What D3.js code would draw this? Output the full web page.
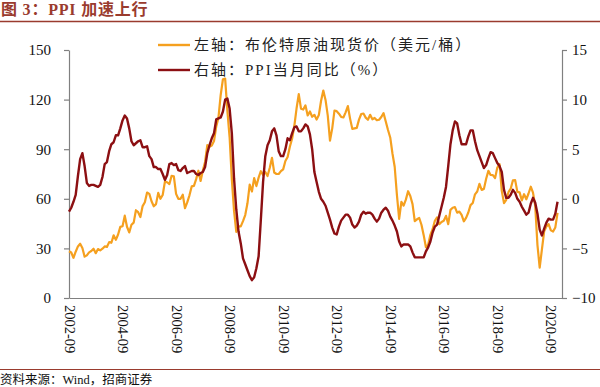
<!DOCTYPE html>
<html><head><meta charset="utf-8">
<script src="https://cdn.jsdelivr.net/npm/d3@7/dist/d3.min.js"></script>
<style>
html,body{margin:0;padding:0;background:#fff;}
svg{display:block;}
text{font-family:"Liberation Serif","Noto Sans CJK SC",serif;}
</style></head>
<body>
<svg id="chart" width="600" height="387"></svg>
<script>
// Monthly data from 2002-09 to 2020-12
const startYear = 2002, startMonth = 9;
const brent = [
 28.3,27.5,24.3,28.0,
 31.2,32.8,30.3,25.0,25.8,27.6,28.4,29.8,27.1,29.6,28.8,29.8,
 31.2,30.9,33.8,33.4,37.9,35.2,38.4,43.0,43.4,49.8,43.1,39.7,
 44.3,45.6,53.1,51.9,49.0,55.6,57.9,63.8,63.0,58.5,55.5,56.8,
 63.6,60.0,62.3,70.4,70.0,68.9,73.9,73.6,63.0,60.0,60.0,62.5,
 54.3,57.8,62.1,67.5,67.8,71.9,77.0,70.8,77.1,82.3,92.5,91.5,
 92.2,94.9,103.7,109.1,122.8,132.3,132.7,113.2,97.2,71.6,52.5,40.0,
 43.4,43.3,46.5,50.2,57.3,68.6,64.4,72.5,67.7,72.8,76.7,74.5,
 76.2,73.8,78.8,84.8,75.9,75.0,75.0,76.7,77.8,82.9,85.3,91.5,
 96.3,104.0,114.6,123.3,114.5,114.0,116.5,110.4,112.8,109.6,110.8,107.9,
 110.7,119.3,125.5,119.8,110.3,95.2,102.6,113.4,113.0,111.5,109.5,109.2,
 112.3,116.1,108.5,102.3,102.6,102.9,107.9,111.3,111.6,109.1,107.8,110.8,
 108.1,108.9,107.5,107.8,109.5,111.8,106.8,101.6,97.1,87.4,79.4,62.3,
 47.8,58.1,55.9,59.5,64.6,61.7,56.8,46.5,47.6,48.4,44.3,38.0,
 30.7,32.2,38.2,41.6,46.7,48.8,44.7,46.0,46.7,49.7,44.7,53.3,
 54.6,55.0,51.6,52.3,50.3,46.4,48.5,51.7,56.2,57.5,62.7,64.4,
 69.1,65.4,66.0,72.1,76.9,74.4,74.3,72.5,78.9,81.0,64.8,57.4,
 59.4,64.0,66.1,71.2,71.3,64.2,63.9,59.0,62.8,59.7,63.2,67.3,
 63.7,55.7,32.0,18.4,29.4,40.3,43.2,44.7,40.9,40.2,42.7,51.5
];
const ppi = [
 -1.3,-0.9,-0.3,0.4,
 2.3,4.0,4.6,3.3,1.6,1.3,1.4,1.4,1.3,1.2,1.4,2.2,
 3.5,3.7,4.8,5.5,5.7,6.4,6.4,7.1,7.9,8.4,8.1,7.1,
 5.8,5.4,5.6,5.8,5.9,5.2,5.2,5.3,4.3,4.0,3.2,3.2,
 3.0,3.0,2.5,1.9,2.4,3.5,3.6,3.4,3.5,2.9,2.8,3.1,
 3.3,2.6,2.7,2.8,2.8,2.5,2.4,2.6,2.7,3.2,4.6,5.4,
 6.1,6.6,8.0,8.1,8.2,8.8,10.0,10.1,9.1,6.6,2.0,-1.1,
 -3.3,-4.5,-6.0,-6.6,-7.2,-7.8,-8.2,-7.9,-7.0,-5.8,-2.1,1.7,
 4.3,5.4,5.9,6.8,7.1,6.4,4.8,4.3,4.3,5.0,6.1,5.9,
 6.6,7.2,7.3,6.8,6.8,7.1,7.5,7.3,6.5,5.0,2.7,1.7,
 0.7,0.0,-0.3,-0.7,-1.4,-2.1,-2.9,-3.5,-3.6,-2.8,-2.2,-1.9,
 -1.6,-1.6,-1.9,-2.6,-2.9,-2.7,-2.3,-1.6,-1.3,-1.5,-1.4,-1.4,
 -1.6,-2.0,-2.3,-2.0,-1.4,-1.1,-0.9,-1.2,-1.8,-2.2,-2.7,-3.3,
 -4.3,-4.8,-4.6,-4.6,-4.6,-4.8,-5.4,-5.9,-5.9,-5.9,-5.9,-5.9,
 -5.3,-4.9,-4.3,-3.4,-2.8,-2.6,-1.7,-0.8,0.1,1.2,3.3,5.5,
 6.9,7.8,7.6,6.4,5.5,5.5,5.5,6.3,6.9,6.9,5.8,4.9,
 4.3,3.7,3.1,3.4,4.1,4.7,4.6,4.1,3.6,3.3,2.7,0.9,
 0.1,0.1,0.4,0.9,0.6,0.0,-0.3,-0.8,-1.2,-1.6,-1.4,-0.5,
 0.1,-0.4,-1.5,-3.1,-3.7,-3.0,-2.4,-2.0,-2.1,-2.1,-1.5,-0.3
];
const xTickLabels = ["2002-09","2004-09","2006-09","2008-09","2010-09","2012-09","2014-09","2016-09","2018-09","2020-09"];
const leftTicks = [0,30,60,90,120,150];
const rightTicks = [-10,-5,0,5,10,15];
const seriesNames = ["左轴：布伦特原油现货价（美元/桶）","右轴：PPI当月同比（%）"];
const titleText = "图 3：PPI 加速上行";
const sourceText = "资料来源：Wind，招商证券";

const colOil = "#f5a01f", colPPI = "#8c0f12", colTitle = "#9a3b2e", axisCol = "#808080";

const svg = d3.select("#chart");
const L = 69, R = 562, T = 50, B = 298;

// month index for each label
const labelIdx = xTickLabels.map(s => {
  const [y, m] = s.split("-").map(Number);
  return (y - startYear) * 12 + (m - startMonth);
});
const x = d3.scaleLinear().domain([0, 221]).range([L, R]);
const yL = d3.scaleLinear().domain([0, 150]).range([B, T]);
const yR = d3.scaleLinear().domain([-10, 15]).range([B, T]);

// title
svg.append("text").attr("x", 1).attr("y", 15).attr("fill", colTitle)
  .attr("font-size", 16).attr("letter-spacing", 0.8).attr("font-weight", "bold").text(titleText);
svg.append("line").attr("x1", 0).attr("x2", 600).attr("y1", 21.5).attr("y2", 21.5)
  .attr("stroke", colTitle).attr("stroke-width", 1.5);

// axes
const axL = svg.append("g").attr("transform", `translate(${L},0)`)
  .call(d3.axisLeft(yL).tickValues(leftTicks).tickSize(5).tickSizeOuter(0).tickPadding(13).tickFormat(d3.format("d")));
const axR = svg.append("g").attr("transform", `translate(${R},0)`)
  .call(d3.axisRight(yR).tickValues(rightTicks).tickSize(5).tickSizeOuter(0).tickPadding(5).tickFormat(d3.format("d")));
const axB = svg.append("g").attr("transform", `translate(0,${B})`)
  .call(d3.axisBottom(x).tickValues(labelIdx).tickSize(0).tickSizeOuter(0).tickFormat((d,i) => xTickLabels[i]));
[axL, axR, axB].forEach(g => {
  g.selectAll("path.domain").attr("stroke", axisCol).attr("stroke-width", 1.2);
  g.selectAll(".tick line").attr("stroke", axisCol).attr("stroke-width", 1.2);
  g.selectAll("text").attr("font-size", 15).attr("fill", "#111")
    .attr("font-family", '"Liberation Serif", serif');
});
axB.selectAll(".tick text")
  .attr("font-size", 14.5)
  .attr("transform", "rotate(90)")
  .attr("text-anchor", "start")
  .attr("x", 7).attr("y", 0).attr("dy", "0.34em");

// lines
const lineOil = d3.line().x((d,i) => x(i)).y(d => yL(d));
const linePPI = d3.line().x((d,i) => x(i)).y(d => yR(d));
svg.append("path").datum(brent).attr("d", lineOil).attr("fill", "none")
  .attr("stroke", colOil).attr("stroke-width", 2.2).attr("stroke-linejoin", "round");
svg.append("path").datum(ppi).attr("d", linePPI).attr("fill", "none")
  .attr("stroke", colPPI).attr("stroke-width", 2.4).attr("stroke-linejoin", "round");

// legend
const legend = svg.append("g");
[[colOil, 45], [colPPI, 70]].forEach(([c, yy], i) => {
  legend.append("line").attr("x1", 158).attr("x2", 190).attr("y1", yy).attr("y2", yy)
    .attr("stroke", c).attr("stroke-width", 2.4);
  legend.append("text").attr("x", 194).attr("y", yy).attr("dy", "0.36em")
    .attr("font-size", 15).attr("letter-spacing", 2).attr("fill", "#222").text(seriesNames[i]);
});

// footer
svg.append("line").attr("x1", 0).attr("x2", 600).attr("y1", 369.5).attr("y2", 369.5)
  .attr("stroke", colTitle).attr("stroke-width", 1);
svg.append("text").attr("x", 0).attr("y", 384).attr("font-size", 12.5).attr("fill", "#111").text(sourceText);
</script>
</body></html>
